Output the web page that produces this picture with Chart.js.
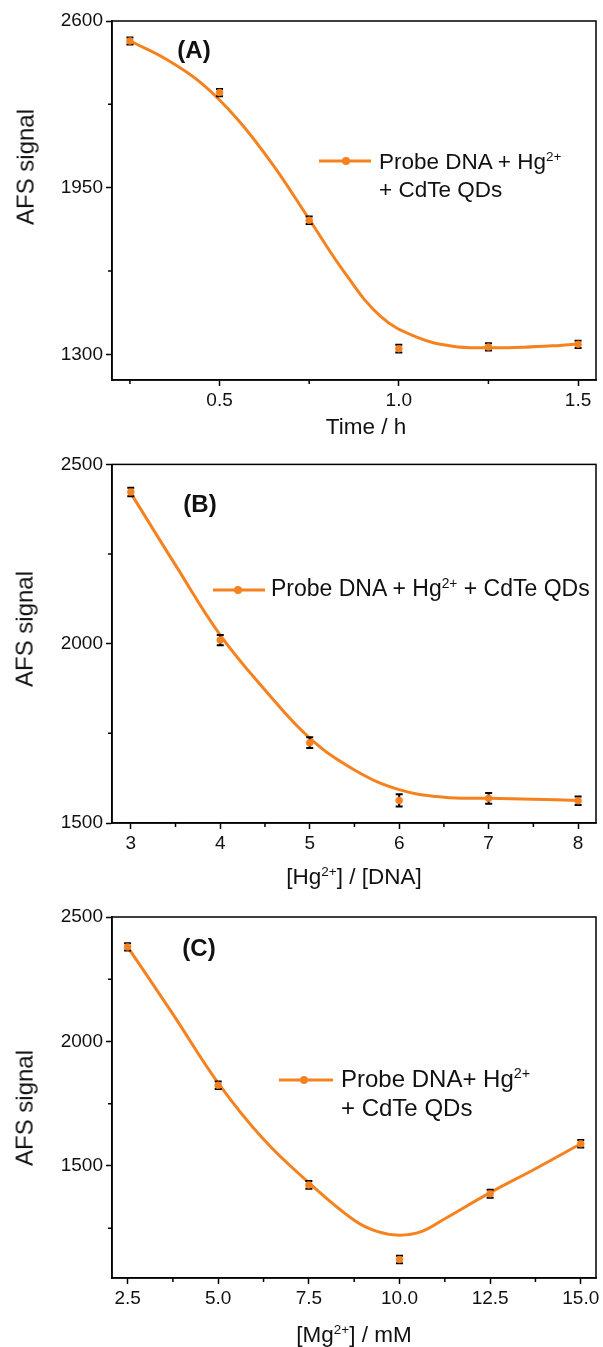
<!DOCTYPE html>
<html><head><meta charset="utf-8">
<script src="https://cdn.jsdelivr.net/npm/chart.js@4.4.1/dist/chart.umd.min.js"></script>
<style>
html,body{margin:0;padding:0;background:#fff;}
body{width:603px;height:1347px;position:relative;overflow:hidden;font-family:"Liberation Sans",Arial,sans-serif;color:#111;}
canvas{position:absolute;left:0;}
.t{position:absolute;white-space:nowrap;transform:translate(-50%,-50%);line-height:1.2;font-size:22.5px;}
.yt{position:absolute;white-space:nowrap;transform:translate(-50%,-50%) rotate(-90deg);font-size:24px;line-height:1.2;}
.lab{position:absolute;white-space:nowrap;transform:translate(-50%,-50%);font-weight:bold;font-size:24px;line-height:1.2;}
.lg{position:absolute;white-space:nowrap;transform:translateY(-50%);line-height:1.2;}
.sym{position:absolute;height:3px;background:#F5821F;transform:translateY(-50%);}
.dot{position:absolute;width:8px;height:8px;border-radius:50%;background:#F5821F;transform:translate(-50%,-50%);}
sup{font-size:0.6em;vertical-align:baseline;position:relative;top:-0.6em;line-height:0;}
</style>
</head>
<body>
<canvas id="cA" width="603" height="450" style="top:0"></canvas>
<canvas id="cB" width="603" height="450" style="top:450px"></canvas>
<canvas id="cC" width="603" height="447" style="top:900px"></canvas>

<!-- Panel A text -->
<div class="yt" style="left:26px;top:167px">AFS signal</div>
<div class="t" style="left:366px;top:426px">Time / h</div>
<div class="lab" style="left:194px;top:50px">(A)</div>
<div class="sym" style="left:319px;width:52px;top:161px"></div>
<div class="dot" style="left:346px;top:161px"></div>
<div class="lg" style="left:379px;top:161px;font-size:22.5px">Probe DNA + Hg<sup>2+</sup></div>
<div class="lg" style="left:379px;top:189px;font-size:22.5px">+ CdTe QDs</div>

<!-- Panel B text -->
<div class="yt" style="left:25px;top:629px">AFS signal</div>
<div class="t" style="left:354px;top:876px">[Hg<sup>2+</sup>] / [DNA]</div>
<div class="lab" style="left:200px;top:504px">(B)</div>
<div class="sym" style="left:213px;width:52px;top:590px"></div>
<div class="dot" style="left:238px;top:590px"></div>
<div class="lg" style="left:271px;top:589px;font-size:23px">Probe DNA + Hg<sup>2+</sup> + CdTe QDs</div>

<!-- Panel C text -->
<div class="yt" style="left:25px;top:1108px">AFS signal</div>
<div class="t" style="left:354px;top:1334px">[Mg<sup>2+</sup>] / mM</div>
<div class="lab" style="left:199px;top:948px">(C)</div>
<div class="sym" style="left:279px;width:54px;top:1080px"></div>
<div class="dot" style="left:304px;top:1080px"></div>
<div class="lg" style="left:341px;top:1079px;font-size:24px">Probe DNA+ Hg<sup>2+</sup></div>
<div class="lg" style="left:341px;top:1108px;font-size:24px">+ CdTe QDs</div>

<script>
// ---------- Panel A: time ----------
const timeH = [0.25, 0.5, 0.75, 1.0, 1.25, 1.5];
const signalA = [2522, 2321, 1823, 1322, 1329, 1339];
const errA = [14, 14, 15, 15, 14, 14];
const fitTimeH = [0.25, 0.35, 0.45, 0.55, 0.65, 0.75, 0.85, 0.95, 1.05, 1.15, 1.25, 1.35, 1.45, 1.5];
const fitSignalA = [2522, 2452, 2357, 2217, 2037, 1827, 1617, 1447, 1367, 1332, 1326, 1328, 1335, 1340];
const xTicksA = [0.5, 1.0, 1.5];
const xMinorA = [0.25, 0.75, 1.25];
const yTicksA = [1300, 1950, 2600];
const yMinorA = [1625, 2275];

// ---------- Panel B: [Hg2+]/[DNA] ----------
const ratioHgDNA = [3, 4, 5, 6, 7, 8];
const signalB = [2423, 2010, 1724, 1563, 1569, 1562];
const errB = [12, 14, 15, 17, 15, 12];
const fitRatio = [3, 3.5, 4, 4.5, 5, 5.5, 6, 6.5, 7, 7.5, 8];
const fitSignalB = [2420, 2219, 2024, 1871, 1737, 1648, 1593, 1572, 1569, 1566, 1563];
const xTicksB = [3, 4, 5, 6, 7, 8];
const xMinorB = [3.5, 4.5, 5.5, 6.5, 7.5];
const yTicksB = [1500, 2000, 2500];
const yMinorB = [1750, 2250];

// ---------- Panel C: [Mg2+] ----------
const mgMM = [2.5, 5.0, 7.5, 10.0, 12.5, 15.0];
const signalC = [2380, 1824, 1424, 1124, 1388, 1589];
const errC = [15, 15, 16, 15, 16, 15];
const fitMg = [2.5, 3.75, 5, 6.25, 7.5, 8.75, 9.4, 10, 10.6, 11.25, 12.5, 13.75, 15];
const fitSignalC = [2380, 2110, 1833, 1607, 1433, 1282, 1236, 1222, 1236, 1288, 1393, 1489, 1589];
const xTicksC = [2.5, 5.0, 7.5, 10.0, 12.5, 15.0];
const xMinorC = [3.75, 6.25, 8.75, 11.25, 13.75];
const yTicksC = [1500, 2000, 2500];
const yMinorC = [1250, 1750, 2250];

const ORANGE = '#F5821F';
const FONT = '"Liberation Sans", Arial, sans-serif';

const decor = {
  id: 'decor',
  beforeDatasetDraw(chart, args, opts) {
    if (args.index !== 0) return;
    const {ctx, scales: {x, y}} = chart;
    ctx.save();
    ctx.strokeStyle = '#000';
    ctx.lineWidth = 2;
    opts.px.forEach((xv, i) => {
      const cx = x.getPixelForValue(xv);
      const yt = y.getPixelForValue(opts.py[i] + opts.err[i]);
      const yb = y.getPixelForValue(opts.py[i] - opts.err[i]);
      ctx.beginPath();
      ctx.moveTo(cx, yt); ctx.lineTo(cx, yb);
      ctx.moveTo(cx - 3.5, yt); ctx.lineTo(cx + 3.5, yt);
      ctx.moveTo(cx - 3.5, yb); ctx.lineTo(cx + 3.5, yb);
      ctx.stroke();
    });
    ctx.restore();
  },
  afterDraw(chart, args, opts) {
    const {ctx, chartArea: a, scales: {x, y}} = chart;
    ctx.save();
    ctx.strokeStyle = '#000';
    ctx.lineWidth = 1.5;
    ctx.strokeRect(a.left, a.top, a.right - a.left, a.bottom - a.top);
    ctx.beginPath();
    opts.xMinor.forEach(v => {
      const px = x.getPixelForValue(v);
      ctx.moveTo(px, a.bottom); ctx.lineTo(px, a.bottom + 4);
    });
    opts.yMinor.forEach(v => {
      const py = y.getPixelForValue(v);
      ctx.moveTo(a.left - 4, py); ctx.lineTo(a.left, py);
    });
    ctx.stroke();
    ctx.restore();
  }
};

function panel(id, p) {
  const pts = p.px.map((v, i) => ({x: v, y: p.py[i]}));
  const fit = p.fx.map((v, i) => ({x: v, y: p.fy[i]}));
  const tickFont = {family: FONT, size: 19};
  return new Chart(document.getElementById(id), {
    type: 'scatter',
    data: {
      datasets: [
        {label: 'points', data: pts, showLine: false, pointRadius: 3.5,
         pointBackgroundColor: ORANGE, pointBorderColor: ORANGE, pointBorderWidth: 0.5},
        {label: 'Probe DNA + Hg2+ + CdTe QDs', data: fit, showLine: true, pointRadius: 0,
         borderColor: ORANGE, borderWidth: 3, tension: 0.4, fill: false}
      ]
    },
    options: {
      responsive: false, animation: false, events: [],
      layout: {padding: {left: 0, right: 7, top: p.top, bottom: 0}},
      plugins: {legend: {display: false}, tooltip: {enabled: false},
        decor: {px: p.px, py: p.py, err: p.err, xMinor: p.xMinor, yMinor: p.yMinor}},
      scales: {
        x: {type: 'linear', min: p.xmin, max: p.xmax,
          afterBuildTicks: s => { s.ticks = p.xTicks.map(v => ({value: v})); },
          afterFit: s => { s.height = p.xh; },
          ticks: {font: tickFont, color: '#111', padding: 3, maxRotation: 0, autoSkip: false,
            callback: v => p.xfmt(v)},
          grid: {drawOnChartArea: false, tickLength: 6, tickWidth: 1.5, tickColor: '#000'},
          border: {color: '#000', width: 1.5}},
        y: {type: 'linear', min: p.ymin, max: p.ymax,
          afterBuildTicks: s => { s.ticks = p.yTicks.map(v => ({value: v})); },
          afterFit: s => { s.width = 112; },
          ticks: {font: tickFont, color: '#111', padding: 3, autoSkip: false,
            callback: v => String(v)},
          grid: {drawOnChartArea: false, tickLength: 6, tickWidth: 1.5, tickColor: '#000'},
          border: {color: '#000', width: 1.5}}
      }
    },
    plugins: [decor]
  });
}

panel('cA', {px: timeH, py: signalA, err: errA, fx: fitTimeH, fy: fitSignalA,
  xTicks: xTicksA, xMinor: xMinorA, yTicks: yTicksA, yMinor: yMinorA,
  xmin: 0.2, xmax: 1.55, ymin: 1200, ymax: 2600, top: 21, xh: 70, xfmt: v => v.toFixed(1)});
panel('cB', {px: ratioHgDNA, py: signalB, err: errB, fx: fitRatio, fy: fitSignalB,
  xTicks: xTicksB, xMinor: xMinorB, yTicks: yTicksB, yMinor: yMinorB,
  xmin: 2.79, xmax: 8.2, ymin: 1500, ymax: 2500, top: 14, xh: 77, xfmt: v => String(v)});
panel('cC', {px: mgMM, py: signalC, err: errC, fx: fitMg, fy: fitSignalC,
  xTicks: xTicksC, xMinor: xMinorC, yTicks: yTicksC, yMinor: yMinorC,
  xmin: 2.07, xmax: 15.42, ymin: 1050, ymax: 2500, top: 17, xh: 69, xfmt: v => v.toFixed(1)});
</script>
</body></html>
